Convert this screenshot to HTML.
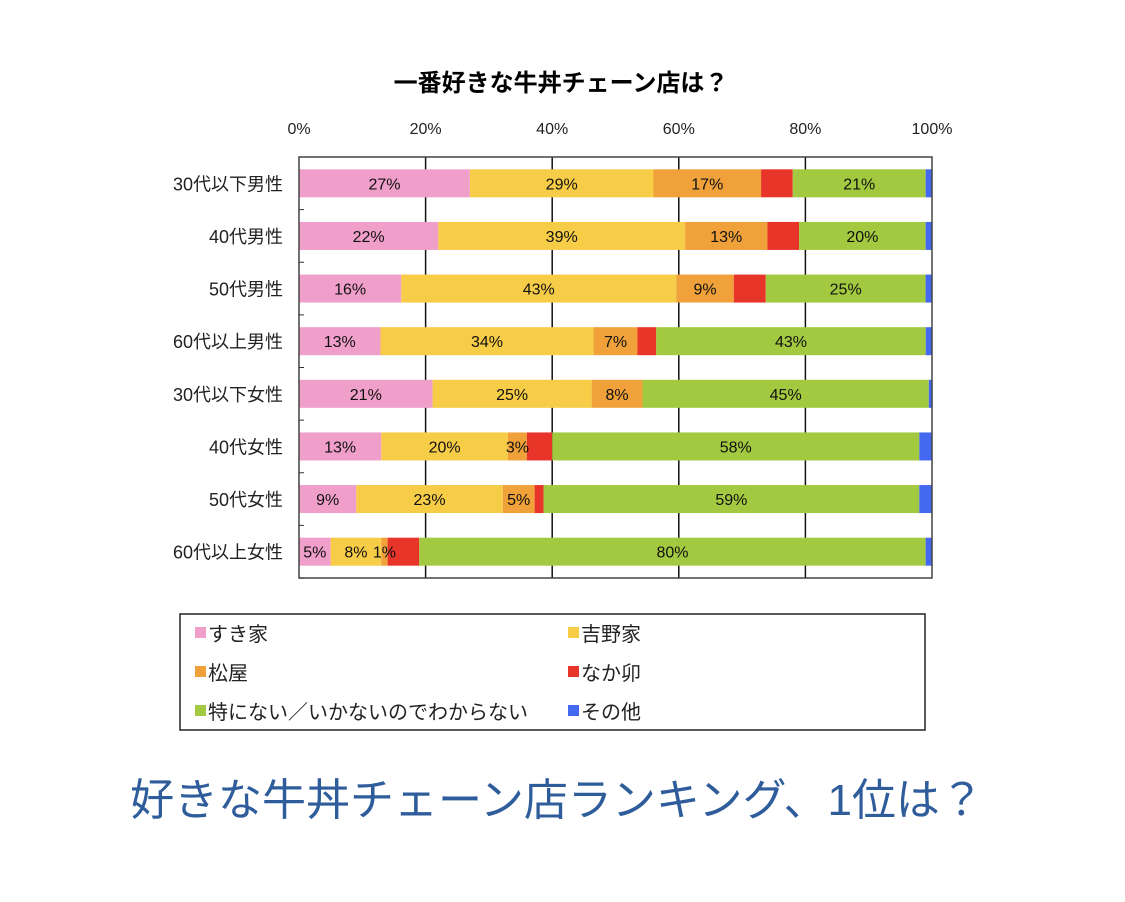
<!DOCTYPE html>
<html><head><meta charset="utf-8"><style>
body{margin:0;background:#fff;width:1125px;height:897px;overflow:hidden;font-family:"Liberation Sans","Noto Sans CJK JP",sans-serif;}
</style></head><body>
<svg width="1125" height="897" id="chart" font-family="Liberation Sans, Noto Sans CJK JP, sans-serif">
<text x="561" y="91" text-anchor="middle" font-size="24" font-weight="bold">一番好きな牛丼チェーン店は？</text>
<g id="plot"></g>
<rect x="180" y="614" width="745" height="116" fill="none" stroke="#222" stroke-width="1.5"/>
<g id="legend"></g>
<text x="557" y="815" text-anchor="middle" font-size="44" fill="#2f5d9b">好きな牛丼チェーン店ランキング、1位は？</text>
</svg>
<script>
const categories=["30代以下男性","40代男性","50代男性","60代以上男性","30代以下女性","40代女性","50代女性","60代以上女性"];
const seriesNames=["すき家","吉野家","松屋","なか卯","特にない／いかないのでわからない","その他"];
const sukiya=[27,22,16,13,21,13,9,5];
const yoshinoya=[29,39,43,34,25,20,23,8];
const matsuya=[17,13,9,7,8,3,5,1];
const nakau=[5,5,5,3,0,4,1.4,5];
const none=[21,20,25,43,45,58,59,80];
const other=[1,1,1,1,0.5,2,2,1];
const labels=[["27%","29%","17%","","21%",""],["22%","39%","13%","","20%",""],["16%","43%","9%","","25%",""],["13%","34%","7%","","43%",""],["21%","25%","8%","","45%",""],["13%","20%","3%","","58%",""],["9%","23%","5%","","59%",""],["5%","8%","1%","","80%",""]];
const ticks=[0,20,40,60,80,100];
const colors=["#f09fca","#f7cc47","#f0a13a","#e8352a","#a2c93f","#4468f0"];
const NS="http://www.w3.org/2000/svg";
const L=299,R=932,T=157,B=578;
const x=v=>L+(R-L)*v/100;
const rowH=(B-T)/categories.length;
const y=i=>T+rowH*i+rowH/2;
const plot=document.getElementById('plot');
function mk(tag,attrs,parent){const e=document.createElementNS(NS,tag);for(const k in attrs)e.setAttribute(k,attrs[k]);(parent||plot).appendChild(e);return e;}
const series=[sukiya,yoshinoya,matsuya,nakau,none,other];
// gridlines behind bars
ticks.forEach(t=>{
  if(t>0&&t<100){const g=mk('line',{x1:x(t),x2:x(t),y1:T,y2:B,stroke:'#111','stroke-width':1.5});
  
  }
  const tl=mk('text',{x:x(t),y:134,'text-anchor':'middle','font-size':16,fill:'#222'});
  tl.textContent=t+'%';
  
  
});
categories.forEach((c,i)=>{
  const tot=series.reduce((s,a)=>s+a[i],0);
  let acc=0;
  series.forEach((a,j)=>{
    const v=a[i]/tot*100;
    const r=mk('rect',{x:x(acc),y:y(i)-14,width:Math.max(0,x(acc+v)-x(acc)),height:28,fill:colors[j]});
    
    
    acc+=v;
  });
  const lab=mk('text',{x:283,y:y(i)+7,'text-anchor':'end','font-size':18,fill:'#222'});
  lab.textContent=c;
  
  
});
categories.forEach((c,i)=>{
  const tot=series.reduce((s,a)=>s+a[i],0);
  let acc=0;
  series.forEach((a,j)=>{
    const v=a[i]/tot*100;
    if(labels[i][j]){const t=mk('text',{x:x(acc+v/2),y:y(i)+6,'text-anchor':'middle','font-size':16,fill:'#111'});
    t.textContent=labels[i][j];
    
    }
    acc+=v;
  });
});
const fr=mk('rect',{x:L,y:T,width:R-L,height:B-T,fill:'none',stroke:'#444','stroke-width':1.5});


for(let i=1;i<=categories.length;i++){mk('line',{x1:L,x2:L+5,y1:T+rowH*i,y2:T+rowH*i,stroke:'#333'});}
const lg=document.getElementById('legend');
const pos=[[195,633],[568,633],[195,672],[568,672],[195,711],[568,711]];
seriesNames.forEach((n,j)=>{
  const [lx,ly]=pos[j];
  const s=mk('rect',{x:lx,y:ly-6,width:11,height:11,fill:colors[j]},lg);
  
  
  const t=mk('text',{x:lx+13,y:ly+8,'font-size':20,fill:'#222'},lg);
  t.textContent=n;
  
  
});
</script>
</body></html>
